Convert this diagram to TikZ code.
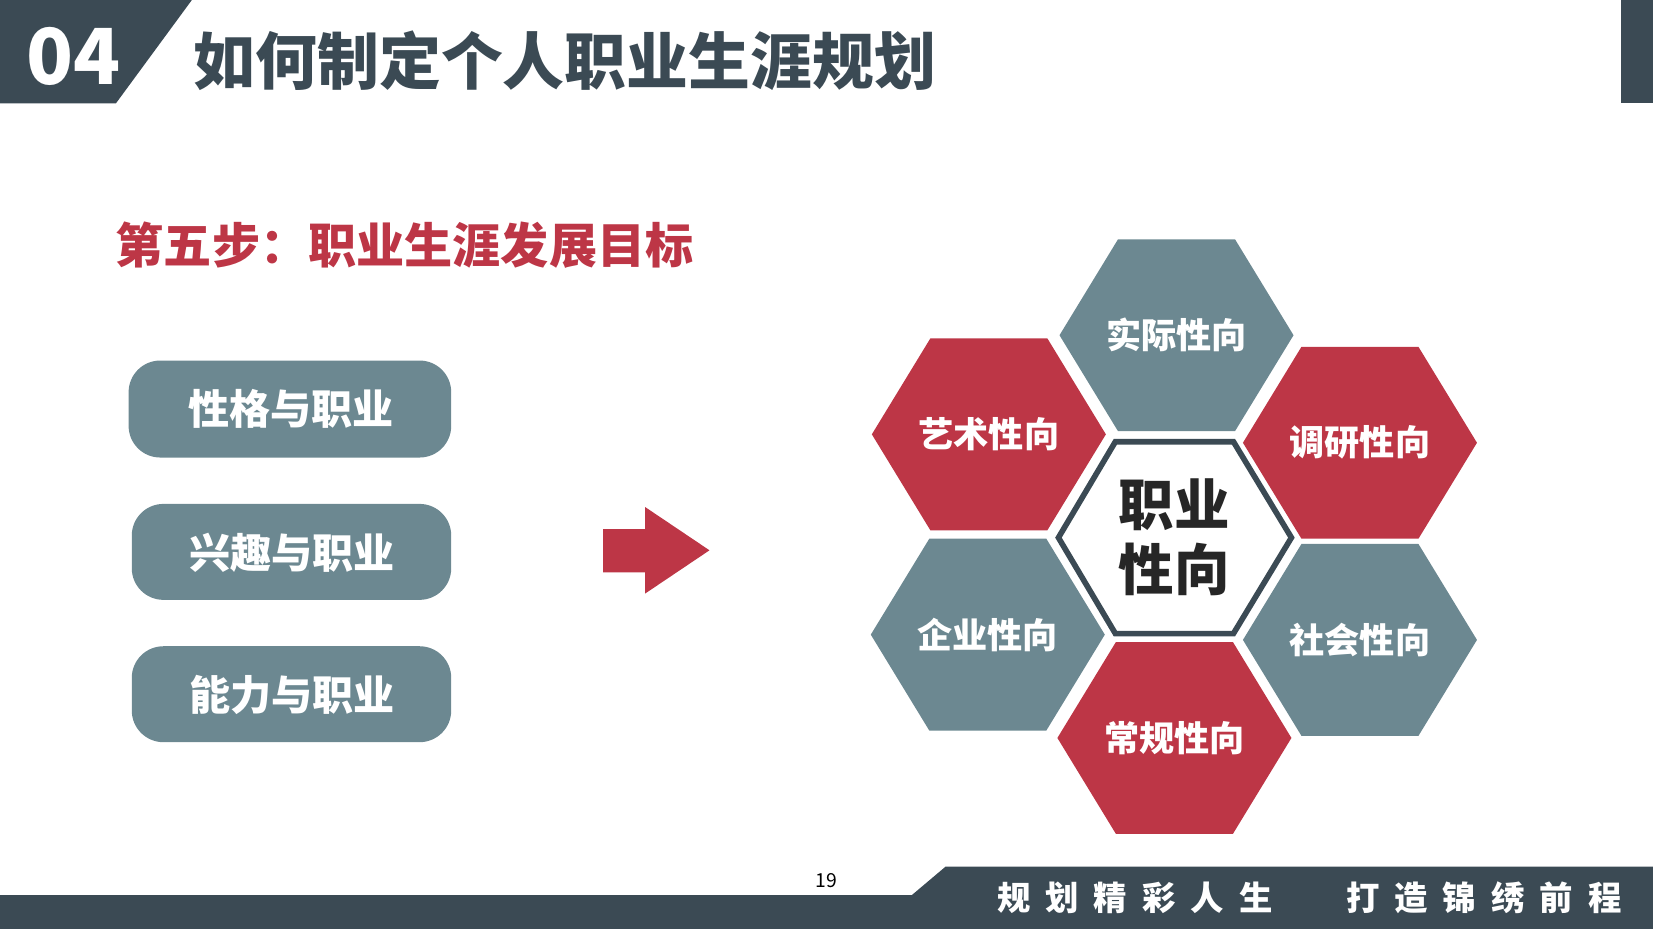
\documentclass[tikz,border=0pt]{standalone}
\usepackage{fontspec}
\setmainfont{Noto Sans CJK SC}
\usetikzlibrary{calc}
\definecolor{darkbar}{HTML}{3B4A54}
\definecolor{steel}{HTML}{6C8891}
\definecolor{crimson}{HTML}{BD3646}
\tikzset{
  card/.style={fill=steel, rounded corners=9pt, text=white, font=\bfseries\fontsize{11.7}{12}\selectfont},
  hexlabel/.style={text=white, font=\bfseries\fontsize{10}{11}\selectfont},
}
\begin{document}
\begin{tikzpicture}[x=0.010542cm, y=-0.010542cm]
	\def\hx{111}
	\def\hy{91}
	\useasboundingbox (0,0) rectangle (1568,881);
	% header
	\fill[darkbar] (0,0) -- (182,0) -- (110,98) -- (0,98) -- cycle;
	\fill[darkbar] (1538,0) rectangle (1568,98);
	\node[text=white, font=\bfseries\fontsize{22}{24}\selectfont] (num) at (70,54) {04};
	\node[anchor=west, text=darkbar, font=\bfseries\fontsize{17.6}{20}\selectfont] (title) at (172,58) {如何制定个人职业生涯规划};
	\node[anchor=west, text=crimson, font=\bfseries\fontsize{13.7}{16}\selectfont] (step) at (98,233) {第五步：职业生涯发展目标};
	% cards
	\path[card] (122,342) rectangle (428,434);
	\node[hexlabel, font=\bfseries\fontsize{11.7}{12}\selectfont] (c1) at (276,388) {性格与职业};
	\path[card] (125,478) rectangle (428,569);
	\node[hexlabel, font=\bfseries\fontsize{11.7}{12}\selectfont] (c2) at (277,524) {兴趣与职业};
	\path[card] (125,613) rectangle (428,704);
	\node[hexlabel, font=\bfseries\fontsize{11.7}{12}\selectfont] (c3) at (277,659) {能力与职业};
	% arrow
	\fill[crimson] (572,502) -- (612,502) -- (612,481) -- (673,522) -- (612,563) -- (612,543) -- (572,543) -- cycle;
	% hexagons
	\foreach \cx/\cy/\col/\txt/\nm in {1116/318/steel/实际性向/h1, 938/412/crimson/艺术性向/h2, 1290/420/crimson/调研性向/h3,
		937/602/steel/企业性向/h4, 1290/607/steel/社会性向/h5, 1114/700/crimson/常规性向/h6}{
		\fill[\col] (\cx-\hx,\cy) -- (\cx-\hx/2,\cy-\hy) -- (\cx+\hx/2,\cy-\hy) -- (\cx+\hx,\cy) -- (\cx+\hx/2,\cy+\hy) -- (\cx-\hx/2,\cy+\hy) -- cycle;
		\node[hexlabel] (\nm) at (\cx,\cy) {\txt};
	}
	\draw[darkbar, line width=1.6pt, fill=white, line join=miter] (1004,510) -- (1058,419) -- (1170,419) -- (1225,510) -- (1170,601) -- (1058,601) -- cycle;
	\node[text=black!85, font=\bfseries\fontsize{15.8}{18.5}\selectfont, align=center] (core) at (1114,510) {职业\\性向};
	% footer
	\fill[darkbar] (0,849) -- (865,849) -- (897,822) -- (1568,822) -- (1568,881) -- (0,881) -- cycle;
	\node[font=\fontsize{5.5}{6}\selectfont] (page) at (784,835) {19};
	\node[text=white, font=\bfseries\fontsize{9.5}{10}\selectfont] (motto) at (1242,852) {规\hspace{0.45em}划\hspace{0.45em}精\hspace{0.45em}彩\hspace{0.45em}人\hspace{0.45em}生\hspace{2.2em}打\hspace{0.45em}造\hspace{0.45em}锦\hspace{0.45em}绣\hspace{0.45em}前\hspace{0.45em}程};
\end{tikzpicture}
\end{document}
